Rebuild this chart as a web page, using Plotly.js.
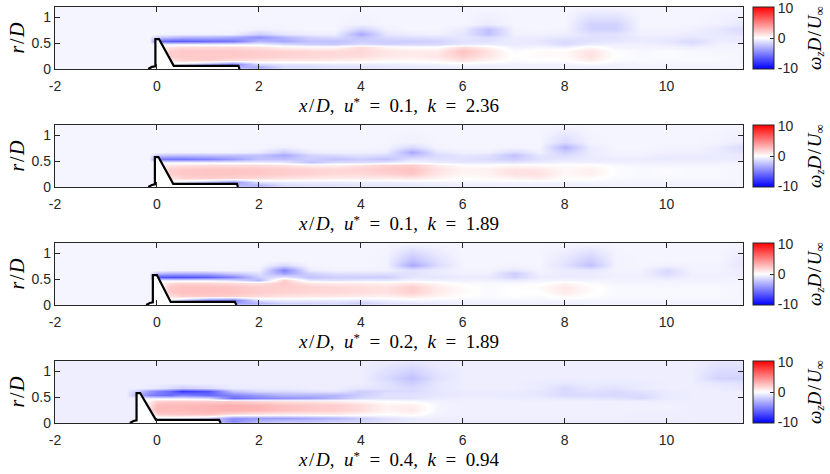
<!DOCTYPE html>
<html>
<head>
<meta charset="utf-8">
<script src="https://cdn.plot.ly/plotly-3.0.1.min.js"></script>
<style>html,body{margin:0;padding:0;background:#fff}#plot{width:830px;height:474px}</style>
</head>
<body>
<div id="plot"></div>
<script>
// grid positions: x/D columns and r/D rows of the vorticity samples
const xGrid = [-2,-1,-0.6,-0.4,-0.15,0,0.25,0.5,1,1.5,2,2.5,3,3.5,4,4.5,5,5.5,6,6.5,7,7.5,8,8.5,9,9.5,10,10.5,11,11.5];
const rGrid = [0,0.04,0.1,0.18,0.26,0.34,0.42,0.49,0.55,0.61,0.68,0.77,0.88,1.2];

// panel 1: u* = 0.1, k = 2.36
const w1 = [
 [-.4,-.4,-.4,-.4,-.4,-.4,-.4, -.5,-.8,-1.5,-2, -1,-1,-.9,-.9,-.8,-.7,-.6,-.6, -.6,-.5,-.5,-.5,-.5,-.5,-.4,-.4,-.4,-.4,-.4],
 [-.4,-.4,-.4,-.4,-.4,-.4,-.4, -.6,-1.5,-3,-3.5, -1.5,-1.5,-1.2,-1.2,-1,-.9,-.8,-.7, -.7,-.6,-.6,-.6,-.7,-.6,-.5,-.5,-.5,-.5,-.4],
 [-.4,-.4,-.4,-.4,-.4,-.4,-.2, -1,-3,-5,-1.5, -1,-1,-.8,-.8,-.7,-.6,-.5,-.3, -.5,-.5,-.5,-.5,-.3,-.5,-.4,-.4,-.4,-.4,-.4],
 [-.4,-.4,-.4,-.4,-.4,-.4,1, 1.8,2,1.5,1.2, 1,1,.8,.6,.3,.2,.5,1.2, .5,-.2,0,0,.8,-.2,-.3,-.3,-.3,-.3,-.4],
 [-.4,-.4,-.4,-.4,-.4,-.4,2, 2.2,2.2,2.2,2, 1.8,1.6,1.5,1.4,1,.8,1,2, 1,0,.2,.2,1.2,0,-.3,-.2,-.3,-.3,-.4],
 [-.4,-.4,-.4,-.4,-.4,-.4,2, 2.2,2.2,2.2,2, 1.8,1.6,1.5,1.6,1,.8,.8,2.5, 1.2,-.2,.2,.2,1.2,-.1,-.3,-.2,-.3,-.4,-.4],
 [-.4,-.4,-.4,-.4,-.4,-.4,1.2, 1.5,1.5,1.5,1.2, .6,.3,.3,1.5,.5,0,0,1.5, .5,-.6,-.4,-.6,.3,-.5,-.5,-.5,-.6,-.5,-.4],
 [-.4,-.4,-.4,-.4,-.4,-.6,-.8, -.8,-.8,-.8,-.6, -1.5,-2,-2.2,-1.5,-1.8,-1.6,-1.6,-1, -.8,-.8,-.8,-1.5,-.8,-.6,-.6,-.8,-1.2,-.6,-.5],
 [-.4,-.4,-.4,-.4,-.4,-6,-6.5, -6.5,-6,-5.5,-3, -3.5,-2.5,-2.5,-2,-2,-2,-1.8,-1.2, -1.2,-.8,-1,-1.5,-1.2,-1,-.8,-1,-1.5,-.8,-.8],
 [-.4,-.4,-.4,-.4,-.4,-2,-2.5, -3,-3,-3.5,-4.5, -3,-1.8,-1.5,-2.5,-1.5,-1.3,-1.2,-1, -1.5,-.8,-.8,-1,-1.2,-1.2,-.8,-.8,-1,-.8,-.9],
 [-.4,-.4,-.4,-.4,-.4,-.4,-.5, -.5,-.5,-.6,-2, -1,-.7,-.7,-3.5,-1,-.7,-.6,-1, -2.5,-.6,-.6,-.7,-1.2,-1.2,-.6,-.6,-.8,-.9,-1.2],
 [-.4,-.4,-.4,-.4,-.4,-.4,-.4, -.4,-.4,-.4,-.6, -.5,-.4,-.4,-1.8,-.6,-.4,-.4,-.8, -2.5,-.5,-.4,-.5,-1.8,-1.8,-.5,-.5,-.6,-1,-1.5],
 [-.4,-.4,-.4,-.4,-.4,-.4,-.4, -.4,-.4,-.4,-.4, -.4,-.4,-.4,-.6,-.4,-.4,-.4,-.4, -.8,-.4,-.4,-.4,-1.8,-1.8,-.4,-.4,-.4,-.6,-.9],
 [-.4,-.4,-.4,-.4,-.4,-.4,-.4, -.4,-.4,-.4,-.4, -.4,-.4,-.4,-.4,-.4,-.4,-.4,-.4, -.4,-.4,-.4,-.4,-.4,-.4,-.4,-.4,-.4,-.4,-.4]
];
// panel 2: u* = 0.1, k = 1.89
const w2 = [
 [-.4,-.4,-.4,-.4,-.4,-.4,-.4, -.5,-.8,-1.5,-1.8, -1,-.9,-.8,-.8,-.7,-.7,-.6,-.6, -.5,-.5,-.5,-.5,-.5,-.4,-.4,-.4,-.4,-.4,-.4],
 [-.4,-.4,-.4,-.4,-.4,-.4,-.4, -.6,-1.5,-3,-3, -1.5,-1.2,-1.2,-1,-1,-.9,-.8,-.7, -.7,-.6,-.6,-.6,-.6,-.5,-.5,-.5,-.5,-.5,-.4],
 [-.4,-.4,-.4,-.4,-.4,-.4,-.2, -1,-2.5,-4.5,-1.2, -.8,-.8,-.8,-.7,-.7,-.6,-.5,-.4, -.4,-.4,-.4,-.4,-.4,-.4,-.4,-.4,-.4,-.4,-.4],
 [-.4,-.4,-.4,-.4,-.4,-.4,1, 1.8,2,1.8,1.5, 1.2,1,.8,.8,.8,1,.5,0, .2,.5,.8,0,.2,-.3,-.3,-.3,-.3,-.3,-.4],
 [-.4,-.4,-.4,-.4,-.4,-.4,2, 2.2,2.3,2.3,2.2, 2,1.8,1.5,1.5,1.8,2.2,1,.4, .5,1.2,1.2,.3,.6,-.1,-.3,-.2,-.3,-.3,-.4],
 [-.4,-.4,-.4,-.4,-.4,-.4,2, 2.2,2.3,2.3,2.2, 2,1.8,1.6,1.8,2.2,2.5,1.2,.5, .6,1.2,1,.3,.6,-.1,-.3,-.2,-.3,-.3,-.4],
 [-.4,-.4,-.4,-.4,-.4,-.4,1, 1.2,1.4,1.4,1.4, 1.2,.6,.6,1.2,1.8,2,.8,.1, .1,.3,.2,.1,.2,-.3,-.4,-.4,-.4,-.4,-.4],
 [-.4,-.4,-.4,-.4,-.4,-.6,-.8, -.8,-.8,-.8,-.8, -1,-2.5,-1.5,-1.5,-1.2,-.5,-.8,-1, -1,-1.2,-.8,-.6,-.6,-.6,-.6,-.6,-.6,-.6,-.5],
 [-.4,-.4,-.4,-.4,-.4,-5.5,-5.5, -5.5,-5,-4,-2.5, -2.5,-2,-2.5,-2,-2.5,-1.2,-1.2,-1.2, -1.5,-2,-1.2,-1,-.8,-.8,-.8,-.8,-.8,-.8,-.8],
 [-.4,-.4,-.4,-.4,-.4,-2,-2.5, -2.5,-2.5,-2.5,-2.5, -3.5,-1.8,-1.5,-1.2,-1.5,-2.5,-1.5,-1, -1.2,-2.5,-1,-1.5,-.8,-.6,-.6,-.8,-.8,-.8,-.9],
 [-.4,-.4,-.4,-.4,-.4,-.4,-.5, -.5,-.5,-.5,-.8, -2,-.8,-.6,-.6,-.8,-3.5,-1,-.6, -.6,-1.5,-.6,-2,-.8,-.5,-.5,-.6,-.6,-.8,-1.2],
 [-.4,-.4,-.4,-.4,-.4,-.4,-.4, -.4,-.4,-.4,-.4, -.6,-.4,-.4,-.4,-.5,-1.5,-.5,-.4, -.4,-.5,-.4,-3,-.8,-.4,-.4,-.5,-.5,-.8,-1.5],
 [-.4,-.4,-.4,-.4,-.4,-.4,-.4, -.4,-.4,-.4,-.4, -.4,-.4,-.4,-.4,-.4,-.6,-.4,-.4, -.4,-.4,-.4,-1.5,-.5,-.4,-.4,-.4,-.4,-.5,-.8],
 [-.4,-.4,-.4,-.4,-.4,-.4,-.4, -.4,-.4,-.4,-.4, -.4,-.4,-.4,-.4,-.4,-.4,-.4,-.4, -.4,-.4,-.4,-.4,-.4,-.4,-.4,-.4,-.4,-.4,-.4]
];
// panel 3: u* = 0.2, k = 1.89
const w3 = [
 [-.4,-.4,-.4,-.4,-.4,-.4,-.4, -.6,-1,-2,-1.5, -1,-1,-.9,-1.2,-.8,-.6,-.6,-.5, -.5,-.5,-.5,-.5,-.4,-.4,-.4,-.4,-.4,-.4,-.4],
 [-.4,-.4,-.4,-.4,-.4,-.4,-.4, -.8,-2,-4,-3, -1.8,-1.8,-1.5,-2,-1.2,-1,-.8,-.6, -.6,-.6,-.6,-.6,-.5,-.5,-.5,-.5,-.5,-.5,-.4],
 [-.4,-.4,-.4,-.4,-.4,-.4,-.2, -2,-5,-5.5,-1.2, -.8,-.8,-.8,-1,-.6,-.4,-.4,-.4, -.4,-.4,-.4,-.4,-.4,-.4,-.4,-.4,-.4,-.4,-.4],
 [-.4,-.4,-.4,-.4,-.4,-.4,1.2, 2,2.2,2,1.5, 1.2,1,1,.8,.6,1,.5,0, -.2,0,-.2,.3,0,-.3,-.3,-.3,-.3,-.3,-.4],
 [-.4,-.4,-.4,-.4,-.4,-.4,2.2, 2.5,2.5,2.4,2, 1.8,1.6,1.5,1.4,1.2,2,.8,.2, -.2,0,0,.8,.2,-.3,-.3,-.3,-.3,-.3,-.4],
 [-.4,-.4,-.4,-.4,-.4,-.4,2.2, 2.5,2.5,2.4,2, 2,1.8,1.6,1.4,1.2,2,.8,.2, -.2,0,.2,1,.2,-.3,-.3,-.3,-.3,-.3,-.4],
 [-.4,-.4,-.4,-.4,-.4,-.4,1.5, 1.8,1.8,1.5,1.2, 2.2,1,.8,.8,.6,1,.3,-.2, -.3,-.3,-.2,.5,-.2,-.4,-.4,-.4,-.4,-.4,-.4],
 [-.4,-.4,-.4,-.4,-.4,-.8,-1, -1,-1,-1.5,-3, 2,-1,-1.2,-1,-1,-.6,-.6,-.6, -.6,-.8,-.5,-.5,-.5,-.5,-.5,-.6,-.5,-.5,-.5],
 [-.4,-.4,-.4,-.4,-.4,-7,-7, -7,-6.5,-5,-2, -1,-2.5,-2,-2,-2,-1,-1,-.8, -.8,-1.8,-.8,-.8,-.8,-.6,-.6,-1,-.6,-.6,-.6],
 [-.4,-.4,-.4,-.4,-.4,-2.5,-3, -3,-3,-2,-1.2, -4,-1.8,-1.2,-1.2,-1.2,-1.2,-.8,-.6, -.6,-2,-.6,-.8,-.8,-.6,-.6,-1.5,-.6,-.6,-.8],
 [-.4,-.4,-.4,-.4,-.4,-.4,-.5, -.5,-.5,-.5,-.6, -5,-.8,-.5,-.5,-.6,-1.2,-.8,-.5, -.5,-1,-.5,-.8,-1,-.5,-.5,-1.5,-.5,-.5,-.8],
 [-.4,-.4,-.4,-.4,-.4,-.4,-.4, -.4,-.4,-.4,-.4, -1.5,-.4,-.4,-.4,-.5,-3.5,-1.5,-.4, -.4,-.5,-.4,-1.2,-2.5,-.5,-.4,-.6,-.5,-.5,-1],
 [-.4,-.4,-.4,-.4,-.4,-.4,-.4, -.4,-.4,-.4,-.4, -.4,-.4,-.4,-.4,-.5,-2.5,-1.2,-.4, -.4,-.4,-.4,-1,-2,-.5,-.4,-.4,-.4,-.4,-1],
 [-.4,-.4,-.4,-.4,-.4,-.4,-.4, -.4,-.4,-.4,-.4, -.4,-.4,-.4,-.4,-.4,-.4,-.4,-.4, -.4,-.4,-.4,-.4,-.4,-.4,-.4,-.4,-.4,-.4,-.4]
];
// panel 4: u* = 0.4, k = 0.94
const w4 = [
 [-.7,-.7,-.7,-.7,-.7,-.7,-.7, -.7,-1,-3,-2, -1.5,-1.5,-1.2,-1,-.9,-.8,-.8,-.7, -.7,-.7,-.7,-.7,-.7,-.7,-.7,-.7,-.7,-.7,-.7],
 [-.7,-.7,-.7,-.7,-.7,-.7,-.7, -.7,-1.5,-5,-3, -2.5,-2.5,-2,-1.8,-1.2,-.9,-.8,-.8, -.8,-.8,-.8,-.8,-.8,-.8,-.8,-.8,-.7,-.7,-.7],
 [-.7,-.7,-.7,-.7,-.7,-.7,-.5, -.8,-1.5,-4.5,-4, -4,-3.5,-3,-2,-1.2,-.8,-.7,-.7, -.7,-.7,-.7,-.7,-.7,-.7,-.7,-.7,-.7,-.7,-.7],
 [-.7,-.7,-.7,-.7,-.7,2,2.2, 2.3,2.5,1.5,1, .8,.8,.8,.4,0,.3,-.5,-.6, -.6,-.6,-.6,-.6,-.6,-.6,-.7,-.7,-.7,-.7,-.7],
 [-.7,-.7,-.7,-.7,1.5,2.8,2.8, 2.8,3,3.2,3, 2.5,2.2,2,1.4,.5,.9,-.4,-.6, -.6,-.6,-.6,-.6,-.6,-.6,-.6,-.6,-.7,-.7,-.7],
 [-.7,-.7,-.7,-.7,1,2.8,2.8, 2.8,3,3.2,3, 2.5,2.2,2,1.4,.5,.7,-.4,-.6, -.6,-.6,-.6,-.6,-.6,-.6,-.6,-.6,-.7,-.7,-.7],
 [-.7,-.7,-.7,-.7,.5,1.8,2, 2,2,2,1.5, 1.2,1,.8,.4,0,-.2,-.6,-.6, -.6,-.6,-.6,-.6,-.6,-.6,-.7,-.7,-.7,-.7,-.7],
 [-.7,-.7,-.7,-.7,-.8,-1,-1, -1,-1.5,-6,-5, -4.5,-4,-3,-1.5,-1.2,-1.2,-.8,-.7, -.7,-.8,-.8,-1,-1,-1.2,-1.5,-.8,-.7,-.7,-.7],
 [-.7,-.7,-.7,-3,-5,-5.5,-6, -5,-6,-5,-4, -3,-3,-3,-2,-1.2,-1.2,-1,-.8, -.8,-.8,-1,-1.5,-1.5,-1.5,-1.5,-.8,-.7,-.7,-.7],
 [-.7,-.7,-.7,-2,-4,-5,-6, -8,-7,-2.5,-1.5, -1.5,-1.2,-1,-2,-1.5,-1.5,-1,-.8, -.8,-.8,-1,-1.5,-1.2,-1.5,-1.2,-.8,-.7,-.7,-.7],
 [-.7,-.7,-.7,-.7,-.8,-1,-1.5, -2,-1.5,-.8,-.8, -.8,-.7,-.7,-1,-1.2,-1.5,-1,-.7, -.7,-.7,-.8,-1.5,-1,-1.2,-.8,-.7,-.7,-.8,-1],
 [-.7,-.7,-.7,-.7,-.7,-.7,-.7, -.7,-.7,-.7,-.7, -.7,-.7,-.7,-.7,-1.2,-2,-1,-.7, -.7,-.7,-.8,-1,-.8,-.9,-.8,-.7,-.7,-1,-1.2],
 [-.7,-.7,-.7,-.7,-.7,-.7,-.7, -.7,-.7,-.7,-.7, -.7,-.7,-.7,-.7,-1.5,-2.5,-1.2,-.7, -.7,-.7,-.7,-.7,-.7,-.7,-.7,-.7,-.7,-1.8,-1.8],
 [-.7,-.7,-.7,-.7,-.7,-.7,-.7, -.7,-.7,-.7,-.7, -.7,-.7,-.7,-.7,-.8,-1,-.8,-.7, -.7,-.7,-.7,-.7,-.7,-.7,-.7,-.7,-.7,-1,-1]
];

// body outline (nozzle) for each case
const bodyR  = [0, 0.04, 0.05, 0.58, 0.58, 0.06, 0.06, 0];
const bodyX1 = [-0.17, -0.1, -0.03, -0.03, 0.04, 0.33, 1.60, 1.62];
const bodyX2 = [-0.17, -0.1, -0.04, -0.04, 0.03, 0.32, 1.57, 1.59];
const bodyX3 = [-0.21, -0.14, -0.08, -0.08, 0.0, 0.27, 1.53, 1.56];
const bodyX4 = [-0.53, -0.46, -0.40, -0.40, -0.33, -0.02, 1.22, 1.25];

const caseU = ['0.1', '0.1', '0.2', '0.4'];
const caseK = ['2.36', '1.89', '1.89', '0.94'];
const xTicks = [-2, 0, 2, 4, 6, 8, 10];
const xTickText = ['-2', '0', '2', '4', '6', '8', '10'];
const rTicks = [0, 0.5, 1];
const rTickText = ['0', '0.5', '1'];
const cbTicks = [-10, 0, 10];
const cbTickText = ['-10', '0', '10'];

const fields = [w1, w2, w3, w4];
const bodies = [bodyX1, bodyX2, bodyX3, bodyX4];

const W = 830, H = 474;
const plotLeft = 55, plotRight = 743;
const panelTops = [7, 125, 243, 361];
const panelH = 62;
const scale = [[0,'rgb(0,0,255)'],[0.5,'rgb(255,255,255)'],[1,'rgb(255,0,0)']];
const axColor = '#262626';
const serif = 'Liberation Serif';
const it = (s, sz) => '<span style="font-style:italic;font-size:' + sz + 'px">' + s + '</span>';
const shift = (s, sz, bs, italic) => '<span style="font-size:' + sz + 'px;baseline-shift:' + bs +
  (italic ? ';font-style:italic' : '') + '">' + s + '</span>';
const sp = '\u2002', hs = '\u200A';
function xLabel(i) {
  const s = 19;
  return it('x', s) + hs + '/' + hs + it('D', s) + ',' + sp + it('u', s) + shift('*', 13, '45%', false) + sp + '=' + sp + caseU[i] +
         ',' + sp + it('k', s) + sp + '=' + sp + caseK[i];
}
const rLabel = it('r', 20) + hs + '/' + hs + it('D', 20);
const cbLabel = it('ω', 19) + shift('z', 13, '-25%', true) + it('D', 19) + hs + '/' + hs + it('U', 19) + shift('∞', 13, '-25%', false);

const data = [];
const layout = {
  width: W, height: H,
  margin: {l:0, r:0, t:0, b:0},
  paper_bgcolor: '#ffffff',
  plot_bgcolor: '#ffffff',
  font: {family: 'Liberation Sans', size: 14, color: axColor},
  showlegend: false,
  annotations: []
};

for (let i = 0; i < 4; i++) {
  const sfx = i === 0 ? '' : String(i + 1);
  const top = panelTops[i], bot = top + panelH;
  const d0 = 1 - bot / H, d1 = 1 - top / H;
  data.push({
    type: 'heatmap', x: xGrid, y: rGrid, z: fields[i],
    xaxis: 'x' + sfx, yaxis: 'y' + sfx,
    zmin: -10.3, zmax: 10.3, zsmooth: 'best',
    colorscale: scale, hoverinfo: 'skip',
    showscale: true,
    colorbar: {
      x: 753 / W, xanchor: 'left', xref: 'paper',
      y: (d0 + d1) / 2, yanchor: 'middle', yref: 'paper',
      len: panelH / H, lenmode: 'fraction',
      thickness: 21, thicknessmode: 'pixels',
      xpad: 0, ypad: 0,
      outlinewidth: 1, outlinecolor: axColor,
      tickmode: 'array', tickvals: cbTicks, ticktext: cbTickText,
      ticks: 'inside', ticklen: 4, tickcolor: axColor,
      ticklabeloverflow: 'allow',
      tickfont: {family: 'Liberation Sans', size: 14, color: axColor}
    }
  });
  data.push({
    type: 'scatter', mode: 'lines', x: bodies[i], y: bodyR,
    xaxis: 'x' + sfx, yaxis: 'y' + sfx,
    fill: 'toself', fillcolor: '#ffffff',
    line: {color: '#000000', width: 2.2}, hoverinfo: 'skip'
  });
  layout['xaxis' + sfx] = {
    domain: [plotLeft / W, plotRight / W], anchor: 'y' + sfx,
    range: [-2, 11.5], tickmode: 'array', tickvals: xTicks, ticktext: xTickText,
    ticks: 'inside', ticklen: 5, tickcolor: axColor, tickwidth: 1,
    ticklabelstandoff: 4,
    showline: true, linecolor: axColor, linewidth: 1.2, mirror: 'ticks',
    showgrid: false, zeroline: false,
    tickfont: {family: 'Liberation Sans', size: 14, color: axColor},
    title: {text: xLabel(i), font: {family: serif, size: 19, color: '#000'}, standoff: 1}
  };
  layout['yaxis' + sfx] = {
    domain: [d0, d1], anchor: 'x' + sfx,
    range: [0, 1.2], tickmode: 'array', tickvals: rTicks, ticktext: rTickText,
    ticks: 'inside', ticklen: 5, tickcolor: axColor, tickwidth: 1,
    showline: true, linecolor: axColor, linewidth: 1.2, mirror: 'ticks',
    showgrid: false, zeroline: false,
    tickfont: {family: 'Liberation Sans', size: 14, color: axColor},
    title: {text: rLabel, font: {family: serif, size: 20, color: '#000'}, standoff: 1}
  };
  layout.annotations.push({
    xref: 'paper', yref: 'paper', x: 815 / W, y: (d0 + d1) / 2,
    xanchor: 'center', yanchor: 'middle', textangle: -90, showarrow: false,
    text: cbLabel,
    font: {family: serif, size: 19, color: '#000'}
  });
}

Plotly.newPlot('plot', data, layout, {staticPlot: true, displayModeBar: false});
</script>
</body>
</html>
